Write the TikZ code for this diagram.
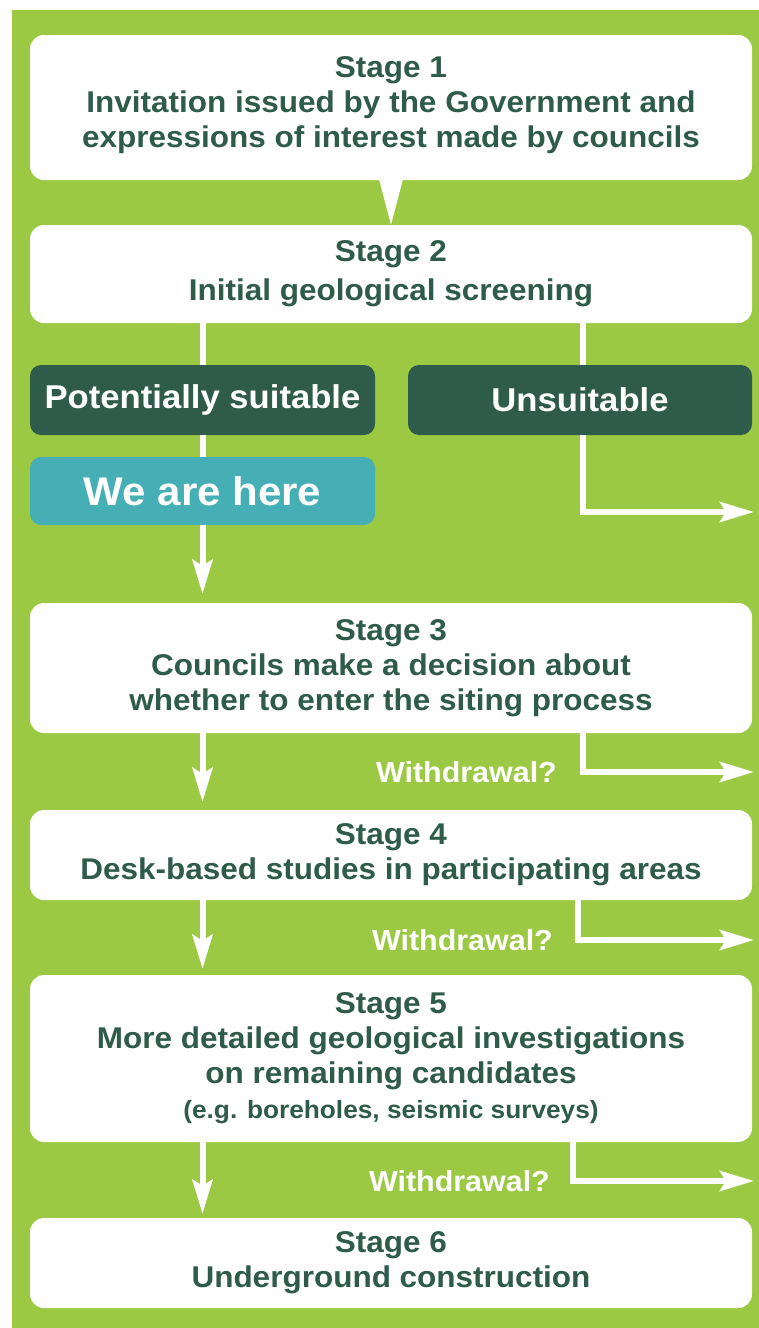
\documentclass[tikz,border=0pt]{standalone}
\usepackage{fontspec}
\setmainfont[FakeStretch=1.05]{Liberation Sans}
\usetikzlibrary{arrows.meta,calc}
\definecolor{bggreen}{HTML}{9CC943}
\definecolor{dkgreen}{HTML}{2F5C4A}
\definecolor{tealc}{HTML}{46AEB5}
\tikzset{
  stagebox/.style={fill=white, rounded corners=14pt, minimum width=722pt, align=center,
    text=dkgreen, font=\bfseries\fontsize{30}{35}\selectfont, inner sep=0pt},
  darkbox/.style={fill=dkgreen, rounded corners=11pt, minimum width=345pt, minimum height=70pt,
    text=white, font=\bfseries\fontsize{33}{38}\selectfont, inner sep=0pt},
  herebox/.style={fill=tealc, rounded corners=11pt, minimum width=345pt, minimum height=68pt,
    text=white, font=\bfseries\fontsize{40}{44}\selectfont, inner sep=0pt},
  wlab/.style={text=white, font=\bfseries\fontsize{29}{32}\selectfont, anchor=east, inner sep=0pt},
  flow/.style={draw=white, line width=6pt},
  arr/.style={flow, -{Stealth[length=34pt,width=20pt,inset=6pt]}},
}
\begin{document}
\begin{tikzpicture}[x=1pt,y=-1pt]
\useasboundingbox (0,0) rectangle (759,1328);
\fill[bggreen] (12,10) rectangle (759,1328);

\node[stagebox, minimum height=145pt] (s1) at (391,107.5)
  {Stage 1\\Invitation issued by the Government and\\expressions of interest made by councils\\[-25pt]\mbox{}};
\node[stagebox, minimum height=98pt] (s2) at (391,274)
  {Stage 2\\[4pt]Initial geological screening};
\fill[white] ($(s1.south)+(-12,-1)$) -- ($(s1.south)+(12,-1)$) -- (s1.south |- s2.north) -- cycle;

\node[darkbox] (pot) at (202.5,400) {Potentially suitable};
\node[darkbox, minimum width=344pt] (uns) at (580,400) {Unsuitable};
\node[herebox] (here) at (202.5,491) {We are here};

\node[stagebox, minimum height=130pt] (s3) at (391,668)
  {Stage 3\\Councils make a decision about\\whether to enter the siting process};
\node[stagebox, minimum height=90pt] (s4) at (391,855)
  {Stage 4\\Desk-based studies in participating areas};
\node[stagebox, minimum height=167pt] (s5) at (391,1058.5)
  {Stage 5\\More detailed geological investigations\\on remaining candidates\\{\fontsize{25}{35}\selectfont(e.g. boreholes, seismic surveys)}};
\node[stagebox, minimum height=90pt] (s6) at (391,1263)
  {Stage 6\\Underground construction};

% left trunk
\draw[flow] (s2.south -| pot.north) -- (pot.north);
\draw[flow] (pot.south) -- (here.north);
\draw[arr, shorten >=9pt] (here.south) -- (here.south |- s3.north);
\draw[arr, shorten >=8pt] (s3.south -| here.south) -- (here.south |- s4.north);
\draw[arr, shorten >=6pt] (s4.south -| here.south) -- (here.south |- s5.north);
\draw[arr, shorten >=4pt] (s5.south -| here.south) -- (here.south |- s6.north);

% unsuitable branch
\coordinate (u0) at (583,512);
\coordinate (uend) at (754,512);
\draw[flow] (s2.south -| u0) -- (uns.north -| u0);
\draw[arr] (uns.south -| u0) -- (u0) -- (uend);

% withdrawals
\coordinate (w1) at (583,772);
\coordinate (w1e) at (754,772);
\coordinate (w2) at (578,940);
\coordinate (w2e) at (754,940);
\coordinate (w3) at (573,1181);
\coordinate (w3e) at (754,1181);
\draw[arr] (s3.south -| w1) -- (w1) -- (w1e);
\draw[arr] (s4.south -| w2) -- (w2) -- (w2e);
\draw[arr] (s5.south -| w3) -- (w3) -- (w3e);
\node[wlab] (l1) at (557,772) {Withdrawal?};
\node[wlab] (l2) at (553,940) {Withdrawal?};
\node[wlab] (l3) at (550,1181) {Withdrawal?};
\end{tikzpicture}
\end{document}
